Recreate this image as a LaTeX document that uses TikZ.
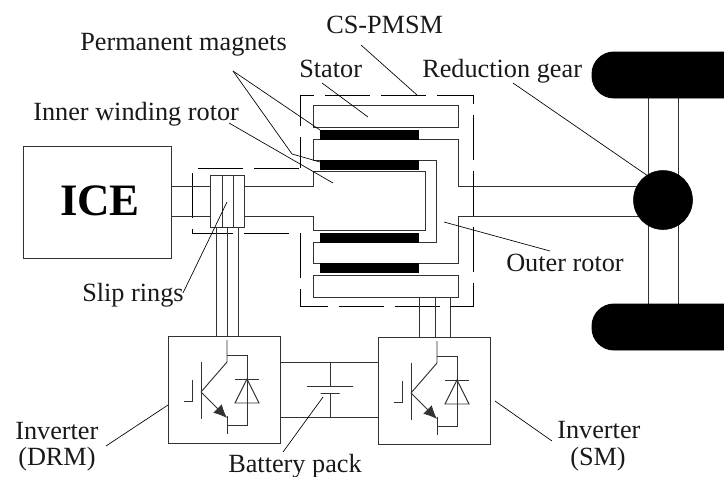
\documentclass[tikz,border=0pt]{standalone}
\usepackage{fontspec}
\setmainfont{Liberation Serif}
\usetikzlibrary{arrows.meta, calc, backgrounds}
\definecolor{linecolor}{RGB}{50, 50, 50}
\tikzset{
	part/.style 2 args={draw=linecolor, line width=0.7pt, shape=rectangle, anchor=north west, inner sep=0pt, outer sep=0pt, minimum width=#1*0.75pt, minimum height=#2*0.75pt},
	magnet/.style={part={98}{9}, fill=black, draw=black},
	wheel/.style={part={153}{46}, fill=black, draw=black, rounded corners=16.5pt},
	gear/.style={draw=black, fill=black, shape=circle, inner sep=0pt, outer sep=0pt, minimum size=59*0.75pt},
	plate/.style={draw=linecolor, line width=0.7pt, shape=rectangle, inner sep=0pt, outer sep=0pt, minimum width=#1*0.75pt, minimum height=0pt},
	wire/.style={draw=linecolor, line width=0.7pt},
	leader/.style={draw=black, line width=0.5pt},
	casing/.style={draw=black, line width=0.7pt, dash pattern=on 33.75pt off 8.25pt, dash phase=10.5pt},
	annotation/.style={font=\fontsize{19.7}{22}\selectfont, anchor=base west, inner sep=0pt, text=black!90},
	igbt/.pic={
		\draw[wire] (59,4) -- (59,26) -- (33,56);
		\draw[wire] (59,19) -- (79,19) -- (79,89) -- (59,89);
		\draw[wire] (59,80) -- (59,98);
		\draw[wire] (33,26) -- (33,83);
		\draw[wire, -{Latex[length=10pt, width=9pt]}] (33,56) -- (59,82);
		\draw[wire] (24,44) -- (24,65) -- (16,65);
		\draw[wire] (67,43) -- (91,43);
		\draw[wire] (79,43) -- (67,67) -- (91,67) -- cycle;
	}
}

\begin{document}
\begin{tikzpicture}[x=0.75pt, y=-0.75pt]
	\useasboundingbox (0,0) rectangle (724,476);

	% levels and columns
	\coordinate (shaftT) at (0,186);
	\coordinate (shaftB) at (0,216);
	\coordinate (linkT) at (0,362);
	\coordinate (linkB) at (0,417);
	\coordinate (outerE) at (436,0);
	\coordinate (innerT) at (0,171);
	\coordinate (innerB) at (0,230);
	\coordinate (innerE) at (425,0);
	\coordinate (wireA) at (216,0);
	\coordinate (wireB) at (227,0);
	\coordinate (wireC) at (238,0);
	\coordinate (wireD) at (419,0);
	\coordinate (wireE) at (435,0);
	\coordinate (wireF) at (450,0);
	\coordinate (axleL) at (648,0);
	\coordinate (axleR) at (678,0);

	% ICE
	\node (ice) [part={148}{112}] at (23,146) {};
	\node (icetext) [anchor=base, inner sep=0pt, font=\fontsize{33.7}{36}\selectfont\bfseries] at (100,215) {ICE};

	% slip rings
	\node (slip) [part={34}{52}] at (210,175) {};
	\path[wire] (wireA |- slip.north) ++(6,0) coordinate (ringA) -- (ringA |- slip.south);
	\path[wire] (wireB |- slip.north) ++(6,0) coordinate (ringB) -- (ringB |- slip.south);

	% CS-PMSM
	\node (statorT) [part={145}{22}] at (313,105) {};
	\node (statorB) [part={145}{22}] at (313,275) {};
	\node (magnetA) [magnet] at (320,130) {};
	\node (magnetB) [magnet] at (320,160) {};
	\node (magnetC) [magnet] at (320,233) {};
	\node (magnetD) [magnet] at (320,263) {};
	\coordinate (casingA) at (300,168);
	\coordinate (casingB) at (300,95);
	\coordinate (casingC) at (473,95);
	\coordinate (casingD) at (473,306);
	\coordinate (casingE) at (300,306);
	\coordinate (casingF) at (300,233);
	\coordinate (casingG) at (192,233);
	\coordinate (casingH) at (192,168);
	\path[casing] (casingA) -- (casingB) -- (casingC) -- (casingD) -- (casingE) -- (casingF) -- (casingG) -- (casingH) -- cycle;

	% wheels
	\node (wheelT) [wheel] at (592,52) {};
	\node (wheelB) [wheel] at (592,304) {};
	\node (redgear) [gear] at (663,200) {};

	% inverters
	\node (drm) [part={112}{107}] at (168,336) {};
	\node (sm) [part={112}{107}] at (378,337) {};
	\pic at (drm.north west) {igbt};
	\pic at (sm.north west) {igbt};

	% battery
	\node (plateL) [plate=46] at (330,386) {};
	\node (plateS) [plate=19] at (330,393) {};
	\path[wire] (drm.east |- linkT) -- (sm.west |- linkT);
	\path[wire] (drm.east |- linkB) -- (sm.west |- linkB);
	\path[wire] (plateL |- linkT) -- (plateL.north);
	\path[wire] (plateS.south) -- (plateS |- linkB);

	% shafts
	\path[wire] (ice.east |- shaftT) -- (slip.west |- shaftT);
	\path[wire] (ice.east |- shaftB) -- (slip.west |- shaftB);
	\path[wire] (slip.east |- shaftT) -- (statorT.west |- shaftT) -- (statorT.west |- innerT) -- (innerE |- innerT) -- (innerE |- innerB) -- (statorT.west |- innerB) -- (statorT.west |- shaftB) -- (slip.east |- shaftB);
	\path[wire] (magnetA.south west) -- (statorT.west |- magnetA.south) -- (statorT.west |- magnetB.north) -- (magnetB.north west);
	\begin{scope}[on background layer]
		\path[wire] (magnetA.south east) -- (statorT.east |- magnetA.south) -- (statorT.east |- shaftT) -- (redgear.center |- shaftT);
		\path[wire] (magnetB.north east) -- (outerE |- magnetB.north) -- (outerE |- magnetC.south) -- (statorB.west |- magnetC.south) -- (statorB.west |- magnetD.north) -- (statorB.east |- magnetD.north) -- (statorB.east |- shaftB) -- (redgear.center |- shaftB);
		\path[wire] (axleL |- wheelT.south) -- (axleL |- wheelB.north);
		\path[wire] (axleR |- wheelT.south) -- (axleR |- wheelB.north);
	\end{scope}

	% inverter wires
	\path[wire] (wireA |- slip.south) -- (wireA |- drm.north);
	\path[wire] (wireB |- slip.south) -- (wireB |- drm.north);
	\path[wire] (wireC |- slip.south) -- (wireC |- drm.north);
	\path[wire] (wireD |- statorB.south) -- (wireD |- sm.north);
	\path[wire] (wireE |- statorB.south) -- (wireE |- sm.north);
	\path[wire] (wireF |- statorB.south) -- (wireF |- sm.north);

	% labels
	\node (csLabel) [annotation] at (326,33) {CS-PMSM};
	\node (pmLabel) [annotation] at (80,50) {Permanent magnets};
	\node (statorLabel) [annotation] at (299,77) {Stator};
	\node (gearLabel) [annotation] at (422,77) {Reduction gear};
	\node (innerLabel) [annotation] at (33,120) {Inner winding rotor};
	\node (outerLabel) [annotation] at (506,271) {Outer rotor};
	\node (slipLabel) [annotation] at (82,301) {Slip rings};
	\node (drmLabel) [annotation] at (15,439) {Inverter};
	\node (drmLabelB) [annotation] at (18,465) {(DRM)};
	\node (packLabel) [annotation] at (228,472) {Battery pack};
	\node (smLabel) [annotation] at (557,438) {Inverter};
	\node (smLabelB) [annotation] at (570,465) {(SM)};

	% leader lines
	\coordinate (pmApex) at (233,71);
	\coordinate (pmKnee) at (292,154);
	\coordinate (gearFree) at (513,83);
	\path[leader] (361,45) coordinate (csFree) -- (417,95);
	\path[leader] (322,83) coordinate (statorFree) -- ($(statorT.south west)+(55,-10)$);
	\path[leader] (pmApex) -- (magnetA.north west);
	\path[leader] (pmApex) -- (pmKnee) -- ($(magnetB.north west)+(0,2)$);
	\path[leader] (229,123) coordinate (innerFree) -- (333,183);
	\path[leader] (gearFree) -- (redgear.123);
	\path[leader] (444,222) coordinate (outerFree) -- (550,251);
	\path[leader] (227,202) coordinate (slipFree) -- (183,293);
	\path[leader] (106,446) coordinate (drmFree) -- (168,405);
	\path[leader] (323,397) coordinate (packFree) -- (283,452);
	\path[leader] (495,401) coordinate (smFree) -- (552,441);
\end{tikzpicture}
\end{document}
